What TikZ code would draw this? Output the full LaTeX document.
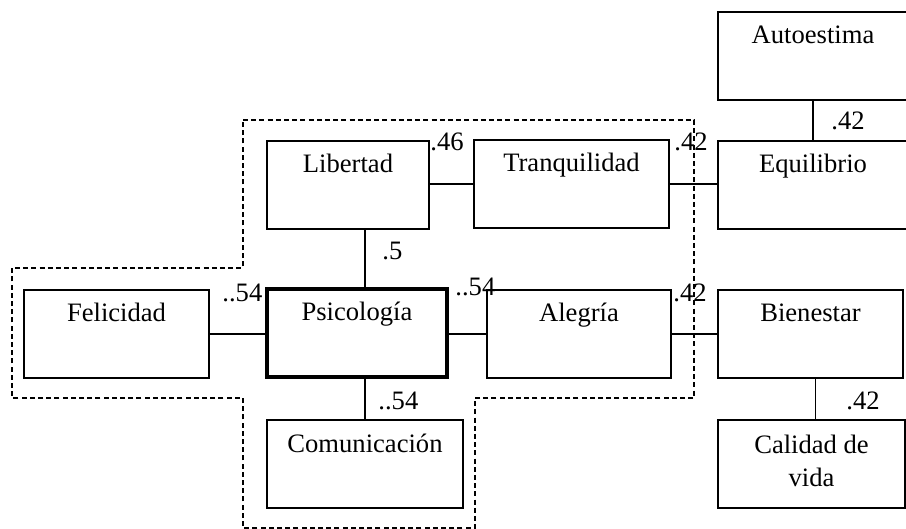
\documentclass[tikz,border=0pt]{standalone}
\usepackage{fontspec}
\setmainfont{Liberation Serif}
\begin{document}
\begin{tikzpicture}[x=0.5pt,y=-0.5pt,
  font=\fontsize{13.3}{16.5}\selectfont,
  box/.style={draw=black, line width=0.6pt, inner sep=0pt, minimum width=#1, text height=16pt, text depth=28pt},
  coef/.style={anchor=base west, inner sep=0pt},
  link/.style={draw=black, line width=0.6pt},
  zone/.style={draw=black, line width=0.6pt, dash pattern=on 2.5pt off 1.6pt}]
\useasboundingbox (0,0) rectangle (906,529);
\draw [zone] (243,120) -- (694,120) -- (694,398) -- (475,398) -- (475,528) -- (243,528) -- (243,398) -- (12,398) -- (12,268) -- (243,268) -- cycle;
\node [box=95pt] (aut) at (813,56) {Autoestima};
\node [box=95pt] (equ) at (813,185) {Equilibrio};
\node [box=81pt] (lib) at (348,185) {Libertad};
\node [box=97.5pt, line width=1.2pt] (tra) at (571.5,184) {Tranquilidad};
\node [box=92.5pt] (fel) at (116.5,334) {Felicidad};
\node [box=90pt, line width=2.2pt] (psi) at (357,333) {Psicología};
\node [box=92pt] (ale) at (579,334) {Alegría};
\node [box=92.5pt] (bie) at (810.5,334) {Bienestar};
\node [box=98pt] (com) at (365,464) {Comunicación};
\node [box=93.5pt, align=center, text height=33.5pt, text depth=10.5pt] (cal) at (811.5,464) {Calidad de\\vida};
\draw [link] (tra.west) -- (tra.west -| lib.east);
\draw [link] (tra.east) -- (tra.east -| equ.west);
\draw [link] (aut.south) -- (equ.north);
\draw [link] ([xshift=4pt]psi.north) -- ([xshift=4pt]psi.north |- lib.south);
\draw [link] (fel.east) -- (fel.east -| psi.west);
\draw [link] (ale.west) -- (ale.west -| psi.east);
\draw [link] (ale.east) -- (ale.east -| bie.west);
\draw [link] (com.north) -- (com.north |- psi.south);
\draw [link] ([xshift=2.5pt]bie.south) -- ([xshift=2.5pt]bie.south |- cal.north);
\node [coef] (c1) at (430,151) {.46};
\node [coef] (c2) at (674,151) {.42};
\node [coef] (c3) at (831,130) {.42};
\node [coef] (c4) at (382,260) {.5};
\node [coef] (c5) at (222,302) {..54};
\node [coef] (c6) at (455,296) {..54};
\node [coef] (c7) at (673,302) {.42};
\node [coef] (c8) at (378,410) {..54};
\node [coef] (c9) at (846,410) {.42};
\end{tikzpicture}
\end{document}
